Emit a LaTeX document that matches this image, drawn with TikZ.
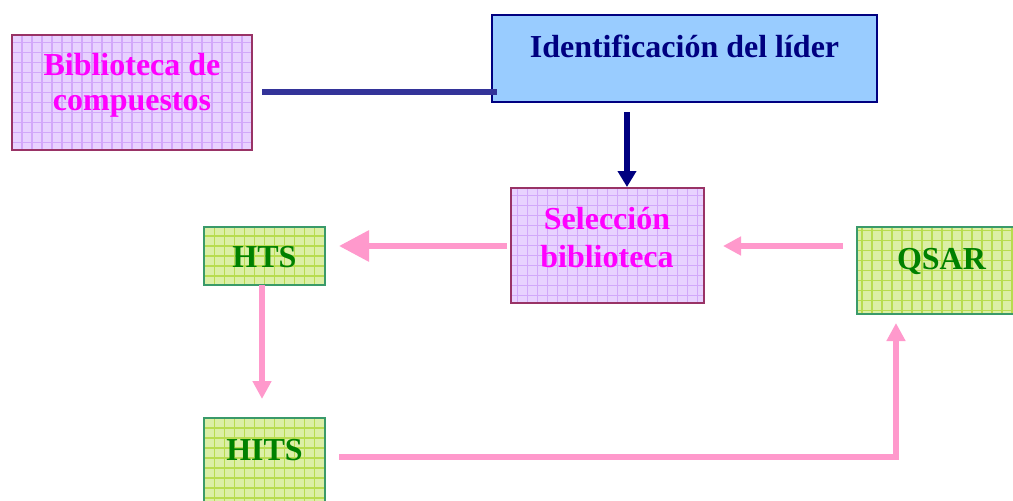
\documentclass[tikz,border=0pt]{standalone}
\usepackage{fontspec}
\setmainfont{Liberation Serif}
\usetikzlibrary{arrows.meta}
\definecolor{purplefill}{HTML}{E8D2FF}
\definecolor{purplegrid}{HTML}{D2A8FA}
\definecolor{purpleedge}{HTML}{993366}
\definecolor{greenfill}{HTML}{DCEFA6}
\definecolor{greengrid}{HTML}{B8DC50}
\definecolor{greenedge}{HTML}{3A9A6A}
\definecolor{bluefill}{HTML}{99CCFF}
\definecolor{navy}{HTML}{000080}
\definecolor{linkblue}{HTML}{333399}
\definecolor{pinkarrow}{HTML}{FF99CC}
\definecolor{magentatext}{HTML}{FF00FF}
\definecolor{greentext}{HTML}{008000}
\tikzset{
  purplebox/.style={draw=purpleedge, line width=2pt, fill=purplefill, inner sep=0pt,
    path picture={\draw[purplegrid, line width=1.2pt, step=10pt]
      (path picture bounding box.south west) grid (path picture bounding box.north east);}},
  greenbox/.style={draw=greenedge, line width=2pt, fill=greenfill, inner sep=0pt,
    path picture={\draw[greengrid, line width=1.2pt, step=10pt]
      (path picture bounding box.south west) grid (path picture bounding box.north east);}},
  bluebox/.style={draw=navy, line width=2pt, fill=bluefill, inner sep=0pt},
  lbl/.style={font=\fontsize{32}{36}\selectfont\bfseries, align=center, inner sep=0pt},
  pinkline/.style={draw=pinkarrow, line width=6pt},
  bigpink/.style={pinkline, -{Triangle[length=30pt, width=30pt]}},
  smallpink/.style={pinkline, -{Triangle[length=18pt, width=18pt]}},
  navyline/.style={draw=linkblue, line width=6pt},
  navyarrow/.style={draw=navy, line width=6pt, -{Triangle[length=16pt, width=18pt]}},
}
\begin{document}
\begin{tikzpicture}[x=1pt, y=-1pt]
\clip (0,0) rectangle (1013,501);
\fill[white] (0,0) rectangle (1013,501);
% boxes
\node[purplebox, minimum width=240pt, minimum height=115pt] (bib) at (132,92.5) {};
\node[lbl, text=magentatext, font=\fontsize{32}{35}\selectfont\bfseries] (bibt) at (132,85) {Biblioteca de\\compuestos};
\node[bluebox, minimum width=385pt, minimum height=87pt] (ident) at (684.5,58.5) {};
\node[lbl, text=navy, anchor=base] (identt) at (684.5,57) {Identificación del líder};
\node[purplebox, minimum width=193pt, minimum height=115pt] (sel) at (607.5,245.5) {};
\node[lbl, text=magentatext, font=\fontsize{32}{38}\selectfont\bfseries] (selt) at (607,237.5) {Selección\\biblioteca};
\node[greenbox, minimum width=121pt, minimum height=58pt] (hts) at (264.5,256) {};
\node[lbl, text=greentext, anchor=base] (htst) at (264.5,267) {HTS};
\node[greenbox, minimum width=121pt, minimum height=100pt] (hits) at (264.5,468) {};
\node[lbl, text=greentext, anchor=base] (hitst) at (264.5,460) {HITS};
\node[greenbox, minimum width=170pt, minimum height=87pt] (qsar) at (942,270.5) {};
\node[lbl, text=greentext, anchor=base] (qsart) at (941.5,269) {QSAR};
% connector end points (the connectors stop short of the boxes)
\coordinate (bibR) at (262,92);
\coordinate (identL) at (497,92);
\coordinate (identB) at (627,112);
\coordinate (selT) at (627,187);
\coordinate (selL) at (507,246);
\coordinate (htsR) at (339,246);
\coordinate (qsarL) at (843,246);
\coordinate (selR) at (723,246);
\coordinate (htsB) at (262,285);
\coordinate (hitsT) at (262,399);
\coordinate (hitsR) at (339,457);
\coordinate (qsarB) at (896,323);
% connectors
\draw[navyline] (bibR) -- (identL);
\draw[navyarrow] (identB) -- (selT);
\draw[bigpink] (selL) -- (htsR);
\draw[smallpink] (qsarL) -- (selR);
\draw[smallpink] (htsB) -- (hitsT);
\draw[smallpink] (hitsR) -| (qsarB);
\end{tikzpicture}
\end{document}
